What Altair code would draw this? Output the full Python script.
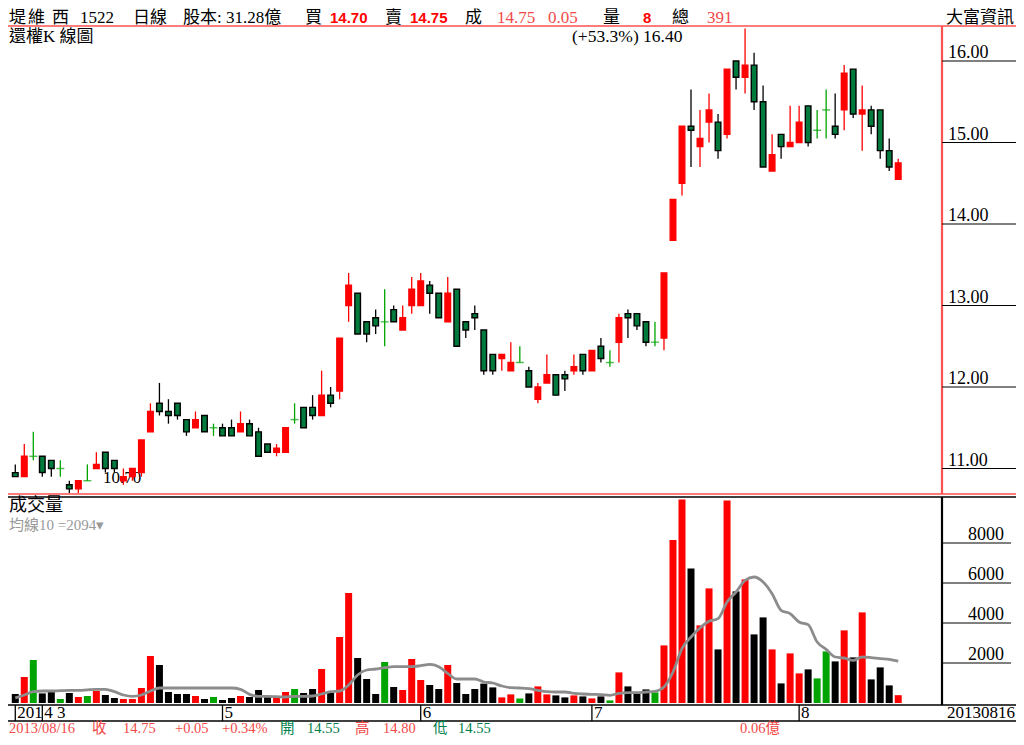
import altair as alt
import pandas as pd

# ---------------- data ----------------
opens = [10.95, 10.90, 11.15, 11.15, 11.10, 11.00, 10.80, 10.75, 10.85, 11.00,
         11.20, 11.10, 10.85, 10.90, 10.95, 11.45, 11.80, 11.70, 11.80, 11.60,
         11.50, 11.65, 11.50, 11.50, 11.50, 11.45, 11.55, 11.45, 11.30, 11.20,
         11.20, 11.60, 11.75, 11.75, 11.65, 11.90, 11.95, 13.00, 13.15, 12.80,
         12.85, 12.80, 12.95, 12.70, 13.00, 13.00, 13.25, 13.15, 12.80, 13.20,
         12.80, 12.90, 12.70, 12.40, 12.35, 12.20, 12.30, 12.20, 11.85, 12.05,
         12.15, 12.15, 12.20, 12.40, 12.20, 12.50, 12.30, 12.55, 12.90, 12.90,
         12.80, 12.55, 12.60, 13.80, 14.50, 15.20, 14.95, 15.25, 15.25, 15.10,
         16.00, 15.80, 15.95, 15.50, 14.65, 15.10, 14.95, 15.00, 15.45, 15.15,
         15.40, 15.20, 15.40, 15.90, 15.35, 15.40, 15.40, 14.90, 14.55]
highs = [11.05, 11.30, 11.45, 11.15, 11.10, 11.10, 10.85, 10.85, 11.05, 11.20,
         11.20, 11.10, 11.00, 11.00, 11.35, 11.80, 12.05, 11.85, 11.80, 11.60,
         11.70, 11.65, 11.55, 11.55, 11.60, 11.70, 11.60, 11.50, 11.30, 11.30,
         11.50, 11.80, 11.75, 11.90, 12.20, 12.00, 12.60, 13.40, 13.15, 12.80,
         12.95, 13.20, 13.00, 13.00, 13.35, 13.40, 13.30, 13.15, 13.35, 13.20,
         12.80, 13.00, 12.70, 12.40, 12.40, 12.55, 12.50, 12.25, 12.05, 12.40,
         12.15, 12.20, 12.40, 12.40, 12.45, 12.60, 12.45, 12.90, 12.95, 12.90,
         12.80, 12.80, 13.40, 14.30, 15.20, 15.65, 15.40, 15.60, 15.35, 15.90,
         16.00, 16.40, 16.10, 15.70, 15.10, 15.10, 15.45, 15.45, 15.45, 15.40,
         15.65, 15.60, 15.95, 15.90, 15.70, 15.45, 15.40, 15.05, 14.80]
lows = [10.90, 10.90, 11.10, 10.90, 10.90, 10.90, 10.70, 10.70, 10.85, 11.00,
        10.95, 10.95, 10.80, 10.85, 10.90, 11.45, 11.65, 11.55, 11.60, 11.40,
        11.50, 11.45, 11.40, 11.40, 11.40, 11.45, 11.40, 11.15, 11.20, 11.15,
        11.20, 11.55, 11.50, 11.60, 11.65, 11.75, 11.85, 12.80, 12.65, 12.55,
        12.65, 12.50, 12.80, 12.70, 12.90, 13.00, 12.90, 12.85, 12.80, 12.50,
        12.60, 12.70, 12.15, 12.15, 12.20, 12.20, 12.30, 12.00, 11.80, 12.05,
        11.90, 11.95, 12.15, 12.15, 12.20, 12.30, 12.25, 12.30, 12.60, 12.70,
        12.50, 12.50, 12.45, 13.80, 14.35, 14.70, 14.70, 15.00, 14.80, 15.05,
        15.65, 15.60, 15.40, 14.70, 14.65, 14.80, 14.95, 15.00, 14.95, 15.05,
        15.05, 15.05, 15.15, 15.30, 14.90, 15.10, 14.80, 14.65, 14.55]
closes = [10.90, 11.15, 11.15, 10.95, 11.00, 11.00, 10.75, 10.85, 10.85, 11.05,
          11.00, 11.00, 10.90, 11.00, 11.35, 11.70, 11.70, 11.65, 11.65, 11.45,
          11.60, 11.45, 11.50, 11.40, 11.40, 11.55, 11.40, 11.15, 11.20, 11.25,
          11.50, 11.60, 11.50, 11.65, 11.90, 11.80, 12.60, 13.25, 12.65, 12.65,
          12.75, 12.80, 12.80, 12.85, 13.20, 13.30, 13.15, 12.85, 13.15, 12.50,
          12.70, 12.85, 12.20, 12.20, 12.40, 12.30, 12.30, 12.00, 12.00, 12.15,
          11.90, 12.10, 12.25, 12.20, 12.45, 12.35, 12.30, 12.85, 12.85, 12.75,
          12.55, 12.55, 13.40, 14.30, 15.20, 15.15, 15.05, 15.40, 14.90, 15.90,
          15.80, 15.95, 15.50, 14.70, 14.85, 14.95, 15.00, 15.25, 15.00, 15.15,
          15.40, 15.10, 15.85, 15.35, 15.40, 15.20, 14.90, 14.70, 14.75]
volumes = [450, 1300, 2150, 480, 550, 200, 500, 300, 350, 600,
           400, 250, 200, 200, 750, 2350, 1900, 550, 450, 450,
           350, 200, 300, 150, 250, 350, 300, 650, 300, 250,
           550, 700, 500, 700, 1700, 500, 3300, 5500, 2250, 1200,
           450, 2050, 800, 650, 2200, 1150, 900, 700, 1900, 1000,
           450, 700, 970, 780, 280, 430, 230, 480, 830, 430,
           380, 280, 380, 330, 230, 330, 130, 1530, 830, 530,
           680, 530, 2880, 8150, 10180, 6730, 3880, 5730, 2680, 10130,
           5580, 6180, 3430, 4280, 2680, 980, 2480, 1480, 1680, 1230,
           2580, 2080, 3630, 2280, 4530, 1180, 1780, 880, 391]
vol_ma10 = [250, 400, 567, 600, 600, 620, 633, 633, 660, 683,
            683, 567, 400, 333, 400, 600, 750, 750, 750, 750,
            750, 750, 750, 750, 750, 683, 433, 333, 333, 317,
            300, 333, 333, 350, 450, 567, 600, 900, 1400, 1650,
            1700, 1767, 1817, 1817, 1817, 1867, 1933, 1817, 1483, 1200,
            1200, 1200, 1050, 1000, 850, 767, 750, 717, 633, 567,
            550, 550, 483, 450, 433, 417, 383, 483, 517, 517,
            550, 583, 800, 1550, 2717, 3300, 3750, 4083, 4217, 5050,
            5550, 6133, 6300, 6050, 5467, 4633, 4467, 4050, 3917, 3050,
            2683, 2300, 2250, 2133, 2300, 2267, 2217, 2183, 2094]
month_tick_idx = [0, 3, 23, 45, 64, 87]
month_tick_labels = ["201", "4  3", "5", "6", "7", "8"]
price_ticks = [11, 12, 13, 14, 15, 16]
volume_ticks = [2000, 4000, 6000, 8000]
last_date = "2013/08/16"

# ---------------- layout ----------------
W, H = 1008, 729
SERIF = "'Liberation Serif', 'Noto Sans CJK TC'"
SANS = "'Liberation Sans', 'Noto Sans CJK TC'"
RED = "#ff0000"
SALMON = "#f24a4a"
FRAME_RED = "#ff5050"
BODY_GREEN = "#007a3d"
DOJI_GREEN = "#00a400"
TXT_GREEN = "#00804a"

step = 9.1
d0 = (8 - 10.3) / step
xscale = alt.Scale(domain=[d0, d0 + W / step], nice=False, zero=False)
pscale = alt.Scale(domain=[10.70, 16.40], range=[484.95, 20.4], nice=False, zero=False)
vscale = alt.Scale(domain=[0, 10300], range=[695, 489], nice=False, zero=False)

n = len(opens)


def kind(o, c):
    d = round(c - o, 3)
    return "up" if d > 0 else ("down" if d < 0 else "doji")


df = pd.DataFrame({"i": list(range(n)), "o": opens, "h": highs, "l": lows,
                   "c": closes, "v": volumes, "ma": vol_ma10})
df["kind"] = [kind(o, c) for o, c in zip(opens, closes)]
df["wick"] = df["kind"].map({"up": RED, "down": "#000000", "doji": DOJI_GREEN})
df["fill"] = df["kind"].map({"up": RED, "down": BODY_GREEN, "doji": DOJI_GREEN})
df["stroke"] = df["kind"].map({"up": RED, "down": "#000000", "doji": DOJI_GREEN})
df["vcol"] = df["kind"].map({"up": RED, "down": "#000000", "doji": DOJI_GREEN})
df["zero"] = 0

X = alt.X("i:Q", scale=xscale, axis=None)
ONE = pd.DataFrame({"k": [0]})


def hline(y, x1, x2, color, w=1.0):
    return alt.Chart(ONE).mark_rule(color=color, strokeWidth=w).encode(
        x=alt.value(x1), x2=alt.value(x2), y=alt.value(y))


def vline(x, y1, y2, color, w=1.0):
    return alt.Chart(ONE).mark_rule(color=color, strokeWidth=w).encode(
        x=alt.value(x), y=alt.value(y1), y2=alt.value(y2))


def txt(x, y, s, color="black", size=17, font=SERIF, weight="normal",
        align="left", baseline="middle"):
    return alt.Chart(ONE).mark_text(align=align, baseline=baseline, font=font,
                                    fontSize=size, fontWeight=weight,
                                    color=color).encode(
        x=alt.value(x), y=alt.value(y), text=alt.value(s))


DATE_TOP, DATE_BOT = 697, 713

layers = []

# frame
layers += [
    hline(18, 0, W, FRAME_RED, 1.5),
    vline(934, 18, 486, FRAME_RED, 2.2),
    hline(486, 0, W, FRAME_RED, 1.5),
    hline(489, 0, W, "black", 1.5),
    vline(934, 489, DATE_TOP, "black", 2.2),
    hline(DATE_TOP, 0, W, "black", 1.5),
    hline(DATE_BOT, 0, W, "black", 1.5),
]

# extreme annotations
hi, lo = max(highs), min(lows)
layers += [
    txt(564, 29, "(+%.1f%%) %.2f" % ((hi / lo - 1) * 100, hi), size=17.5),
    txt(95, 470, "%.2f" % lo, size=17),
]

base = alt.Chart(df)
wicks = base.mark_rule(strokeWidth=1.3).encode(
    x=X, y=alt.Y("l:Q", scale=pscale, axis=None), y2="h:Q",
    color=alt.Color("wick:N", scale=None))
bodies = base.transform_filter("datum.kind != 'doji'").mark_bar(
    size=5.6, strokeWidth=1.4).encode(
    x=X, y=alt.Y("o:Q", scale=pscale, axis=None), y2="c:Q",
    fill=alt.Fill("fill:N", scale=None), stroke=alt.Stroke("stroke:N", scale=None))
dojis = base.transform_filter("datum.kind == 'doji'").mark_tick(
    orient="horizontal", size=8, thickness=1.4, color=DOJI_GREEN).encode(
    x=X, y=alt.Y("o:Q", scale=pscale, axis=None))
vbars = base.mark_bar(size=7).encode(
    x=X, y=alt.Y("v:Q", scale=vscale, axis=None), y2="zero:Q",
    color=alt.Color("vcol:N", scale=None))
maline = base.mark_line(color="#8c8c8c", strokeWidth=2.8, interpolate="monotone").encode(
    x=X, y=alt.Y("ma:Q", scale=vscale, axis=None))
layers += [wicks, bodies, dojis, vbars, maline]

# right axes
pt = alt.Chart(pd.DataFrame({"p": price_ticks}))
layers += [
    pt.mark_rule(color="black", strokeWidth=1).encode(
        y=alt.Y("p:Q", scale=pscale, axis=None), x=alt.value(934), x2=alt.value(W)),
    pt.mark_text(align="left", baseline="alphabetic", dy=-3, font=SERIF,
                 fontSize=18, color="black").encode(
        y=alt.Y("p:Q", scale=pscale, axis=None), x=alt.value(940),
        text=alt.Text("p:Q", format=".2f")),
]
vt = alt.Chart(pd.DataFrame({"v": volume_ticks}))
layers += [
    vt.mark_rule(color="black", strokeWidth=1).encode(
        y=alt.Y("v:Q", scale=vscale, axis=None), x=alt.value(934), x2=alt.value(1003)),
    vt.mark_text(align="left", baseline="alphabetic", dy=-3, font=SERIF,
                 fontSize=18, color="black").encode(
        y=alt.Y("v:Q", scale=vscale, axis=None), x=alt.value(960),
        text=alt.Text("v:Q", format="d")),
]

# date axis
mid = (DATE_TOP + DATE_BOT) / 2
mt = alt.Chart(pd.DataFrame({"i": month_tick_idx, "lab": month_tick_labels}))
layers += [
    mt.mark_rule(color="black", strokeWidth=1.3).encode(
        x=X, y=alt.value(DATE_TOP), y2=alt.value(DATE_BOT)),
    mt.mark_text(align="left", baseline="middle", dx=2, font=SERIF, fontSize=17,
                 color="black").encode(x=X, y=alt.value(mid), text="lab:N"),
    txt(1007, mid, last_date.replace("/", ""), size=17, align="right"),
]

# panel titles
layers += [
    txt(1, 29, "還權K 線圖", size=17),
    txt(1, 498, "成交量", size=18),
    txt(1, 517, "均線10 =%d▾" % vol_ma10[-1], color="#999999", size=15),
]

# header
hy = 9.5
header = [
    (1, "堤", "black", "normal", SERIF), (20, "維", "black", "normal", SERIF),
    (44, "西", "black", "normal", SERIF), (72, "1522", "black", "normal", SERIF),
    (125, "日線", "black", "normal", SERIF), (175, "股本: 31.28億", "black", "normal", SERIF),
    (297, "買", "black", "normal", SERIF), (322, "14.70", RED, "bold", SANS),
    (377, "賣", "black", "normal", SERIF), (402, "%.2f" % closes[-1], RED, "bold", SANS),
    (457, "成", "black", "normal", SERIF), (489, "%.2f" % closes[-1], SALMON, "normal", SERIF),
    (540, "%.2f" % (closes[-1] - closes[-2]), SALMON, "normal", SERIF),
    (595, "量", "black", "normal", SERIF), (635, "8", RED, "bold", SANS),
    (664, "總", "black", "normal", SERIF), (699, "%d" % volumes[-1], SALMON, "normal", SERIF),
]
for x, s, col, wt, f in header:
    layers.append(txt(x, hy, s, color=col, size=15 if f == SANS else 17,
                      weight=wt, font=f))
layers.append(txt(1006, hy, "大富資訊", size=17, align="right"))

# footer
fy = 721
chg = closes[-1] - closes[-2]
footer = [
    (1, last_date, SALMON), (84, "收", SALMON), (115, "%.2f" % closes[-1], SALMON),
    (167, "%+.2f" % chg, SALMON), (214, "%+.2f%%" % (chg / closes[-2] * 100), SALMON),
    (272, "開", TXT_GREEN), (299, "%.2f" % opens[-1], TXT_GREEN),
    (347, "高", SALMON), (375, "%.2f" % highs[-1], SALMON),
    (425, "低", TXT_GREEN), (450, "%.2f" % lows[-1], TXT_GREEN),
    (732, "0.06億", SALMON),
]
for x, s, col in footer:
    layers.append(txt(x, fy, s, color=col, size=14.5))

chart = alt.layer(*layers).resolve_scale(y="independent").properties(
    width=W, height=H, padding=0, background="white",
    autosize=alt.AutoSizeParams(type="none"),
).configure_view(stroke=None)

chart.save("out.html", embed_options={"renderer": "svg", "actions": False})
